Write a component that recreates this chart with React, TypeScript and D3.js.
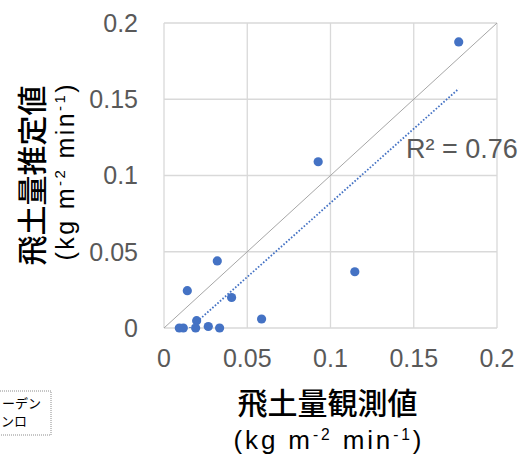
import React, { useEffect, useRef } from "react";
import * as d3 from "d3";

// observed vs estimated dust flux (kg m-2 min-1)
const observed = [
  0.032, 0.014, 0.0406, 0.0586, 0.1146, 0.0196, 0.0092, 0.0116, 0.019, 0.0266,
  0.0334, 0.177, 0.0926,
];
const estimated = [
  0.044, 0.0245, 0.02, 0.0059, 0.0369, 0.0048, 0, 0, 0, 0.001, 0, 0.1876, 0.109,
];
const xTicks = [0, 0.05, 0.1, 0.15, 0.2];
const yTicks = [0, 0.05, 0.1, 0.15, 0.2];
const xTitle = "飛土量観測値";
const yTitle = "飛土量推定値";
const legendLines = ["ーデン", "ンロ"];

const App = () => {
  const svgRef = useRef(null);
  const width = 528;
  const height = 457;
  const margin = { top: 23, right: 31, bottom: 129, left: 164 };

  useEffect(() => {
    const svg = d3.select(svgRef.current);
    svg.selectAll("*").remove();

    const x = d3
      .scaleLinear()
      .domain([0, 0.2])
      .range([margin.left, width - margin.right]);
    const y = d3
      .scaleLinear()
      .domain([0, 0.2])
      .range([height - margin.bottom, margin.top]);

    const grid = "#d9d9d9";
    const tickColor = "#595959";
    const blue = "#4472C4";

    svg
      .append("defs")
      .append("clipPath")
      .attr("id", "plot-clip")
      .append("rect")
      .attr("x", margin.left)
      .attr("y", margin.top)
      .attr("width", width - margin.left - margin.right)
      .attr("height", height - margin.top - margin.bottom);

    // gridlines
    svg
      .append("g")
      .selectAll("line")
      .data(yTicks)
      .enter()
      .append("line")
      .attr("x1", margin.left)
      .attr("x2", width - margin.right)
      .attr("y1", (d) => y(d))
      .attr("y2", (d) => y(d))
      .attr("stroke", grid)
      .attr("stroke-width", 1.3);
    svg
      .append("g")
      .selectAll("line")
      .data(xTicks)
      .enter()
      .append("line")
      .attr("x1", (d) => x(d))
      .attr("x2", (d) => x(d))
      .attr("y1", margin.top)
      .attr("y2", height - margin.bottom)
      .attr("stroke", grid)
      .attr("stroke-width", 1.3);

    // tick labels
    svg
      .append("g")
      .selectAll("text")
      .data(yTicks)
      .enter()
      .append("text")
      .attr("x", margin.left - 26)
      .attr("y", (d) => y(d))
      .attr("dy", "0.35em")
      .attr("text-anchor", "end")
      .attr("fill", tickColor)
      .style("font-family", "'Liberation Sans', Arial, sans-serif")
      .style("font-size", "25px")
      .text((d) => d3.format("")(d));
    svg
      .append("g")
      .selectAll("text")
      .data(xTicks)
      .enter()
      .append("text")
      .attr("x", (d) => x(d))
      .attr("y", height - margin.bottom + 39)
      .attr("text-anchor", "middle")
      .attr("fill", tickColor)
      .style("font-family", "'Liberation Sans', Arial, sans-serif")
      .style("font-size", "25px")
      .text((d) => d3.format("")(d));

    // 1:1 line
    svg
      .append("line")
      .attr("x1", x(0))
      .attr("y1", y(0))
      .attr("x2", x(0.2))
      .attr("y2", y(0.2))
      .attr("stroke", "#a6a6a6")
      .attr("stroke-width", 1);

    // linear trendline
    const n = observed.length;
    const mx = d3.mean(observed);
    const my = d3.mean(estimated);
    let sxy = 0,
      sxx = 0,
      syy = 0;
    for (let i = 0; i < n; i++) {
      sxy += (observed[i] - mx) * (estimated[i] - my);
      sxx += (observed[i] - mx) ** 2;
      syy += (estimated[i] - my) ** 2;
    }
    const slope = sxy / sxx;
    const intercept = my - slope * mx;
    const r2 = (sxy * sxy) / (sxx * syy);
    const [x0, x1] = d3.extent(observed);

    svg
      .append("path")
      .datum([x0, x1])
      .attr("clip-path", "url(#plot-clip)")
      .attr(
        "d",
        d3
          .line()
          .x((d) => x(d))
          .y((d) => y(slope * d + intercept))
      )
      .attr("fill", "none")
      .attr("stroke", blue)
      .attr("stroke-width", 1.8)
      .attr("stroke-dasharray", "1.6 1.8");

    svg
      .append("g")
      .selectAll("circle")
      .data(observed.map((v, i) => [v, estimated[i]]))
      .enter()
      .append("circle")
      .attr("cx", (d) => x(d[0]))
      .attr("cy", (d) => y(d[1]))
      .attr("r", 4.6)
      .attr("fill", blue);

    svg
      .append("text")
      .attr("x", 406)
      .attr("y", 158)
      .attr("fill", tickColor)
      .style("font-family", "'Liberation Sans', Arial, sans-serif")
      .style("font-size", "27px")
      .text(`R² = ${r2.toFixed(2)}`);

    // axis titles
    const cjk = "'Noto Sans CJK JP', sans-serif";
    const latin = "'Liberation Sans', Arial, sans-serif";
    const unit = (sel, size) => {
      const sup = size * 0.6;
      sel.append("tspan").text("(kg m");
      sel.append("tspan").attr("dy", -size * 0.36).style("font-size", sup + "px").text("-2");
      sel.append("tspan").attr("dy", size * 0.36).text(" min");
      sel.append("tspan").attr("dy", -size * 0.36).style("font-size", sup + "px").text("-1");
      sel.append("tspan").attr("dy", size * 0.36).text(")");
    };

    const cx = (margin.left + width - margin.right) / 2;
    svg
      .append("text")
      .attr("x", cx - 3)
      .attr("y", 414)
      .attr("text-anchor", "middle")
      .attr("fill", "#000")
      .style("font-family", cjk)
      .style("font-weight", 500)
      .style("font-size", "30px")
      .text(xTitle);
    const xUnit = svg
      .append("text")
      .attr("x", cx - 3)
      .attr("y", 449)
      .attr("text-anchor", "middle")
      .attr("textLength", 188)
      .attr("lengthAdjust", "spacing")
      .attr("fill", "#000")
      .style("font-family", latin)
      .style("font-size", "26px");
    unit(xUnit, 26);

    const cy = (margin.top + height - margin.bottom) / 2;
    svg
      .append("text")
      .attr("transform", `translate(30,${cy}) rotate(-90)`)
      .attr("text-anchor", "middle")
      .attr("dominant-baseline", "central")
      .attr("fill", "#000")
      .style("font-family", cjk)
      .style("font-weight", 500)
      .style("font-size", "30px")
      .text(yTitle);
    const yUnit = svg
      .append("text")
      .attr("transform", `translate(74,${cy - 3}) rotate(-90)`)
      .attr("text-anchor", "middle")
      .attr("textLength", 176)
      .attr("lengthAdjust", "spacing")
      .attr("fill", "#000")
      .style("font-family", latin)
      .style("font-size", "25px");
    unit(yUnit, 25);

    // leftover legend box, cut at the left edge
    const legend = svg.append("g");
    legend
      .append("rect")
      .attr("x", -6)
      .attr("y", 391)
      .attr("width", 57)
      .attr("height", 44)
      .attr("fill", "#fff")
      .attr("stroke", "#8c8c8c")
      .attr("stroke-dasharray", "1 1");
    legend
      .selectAll("text")
      .data(legendLines)
      .enter()
      .append("text")
      .attr("x", (d, i) => (i === 0 ? 41 : 27))
      .attr("y", (d, i) => 408 + i * 18)
      .attr("text-anchor", "end")
      .attr("fill", "#000")
      .style("font-family", cjk)
      .style("font-size", "13px")
      .text((d) => d);
  }, []);

  return (
    <svg
      ref={svgRef}
      width={width}
      height={height}
      style={{ position: "absolute", left: 0, top: 0, background: "#fff" }}
    ></svg>
  );
};

export default App;
